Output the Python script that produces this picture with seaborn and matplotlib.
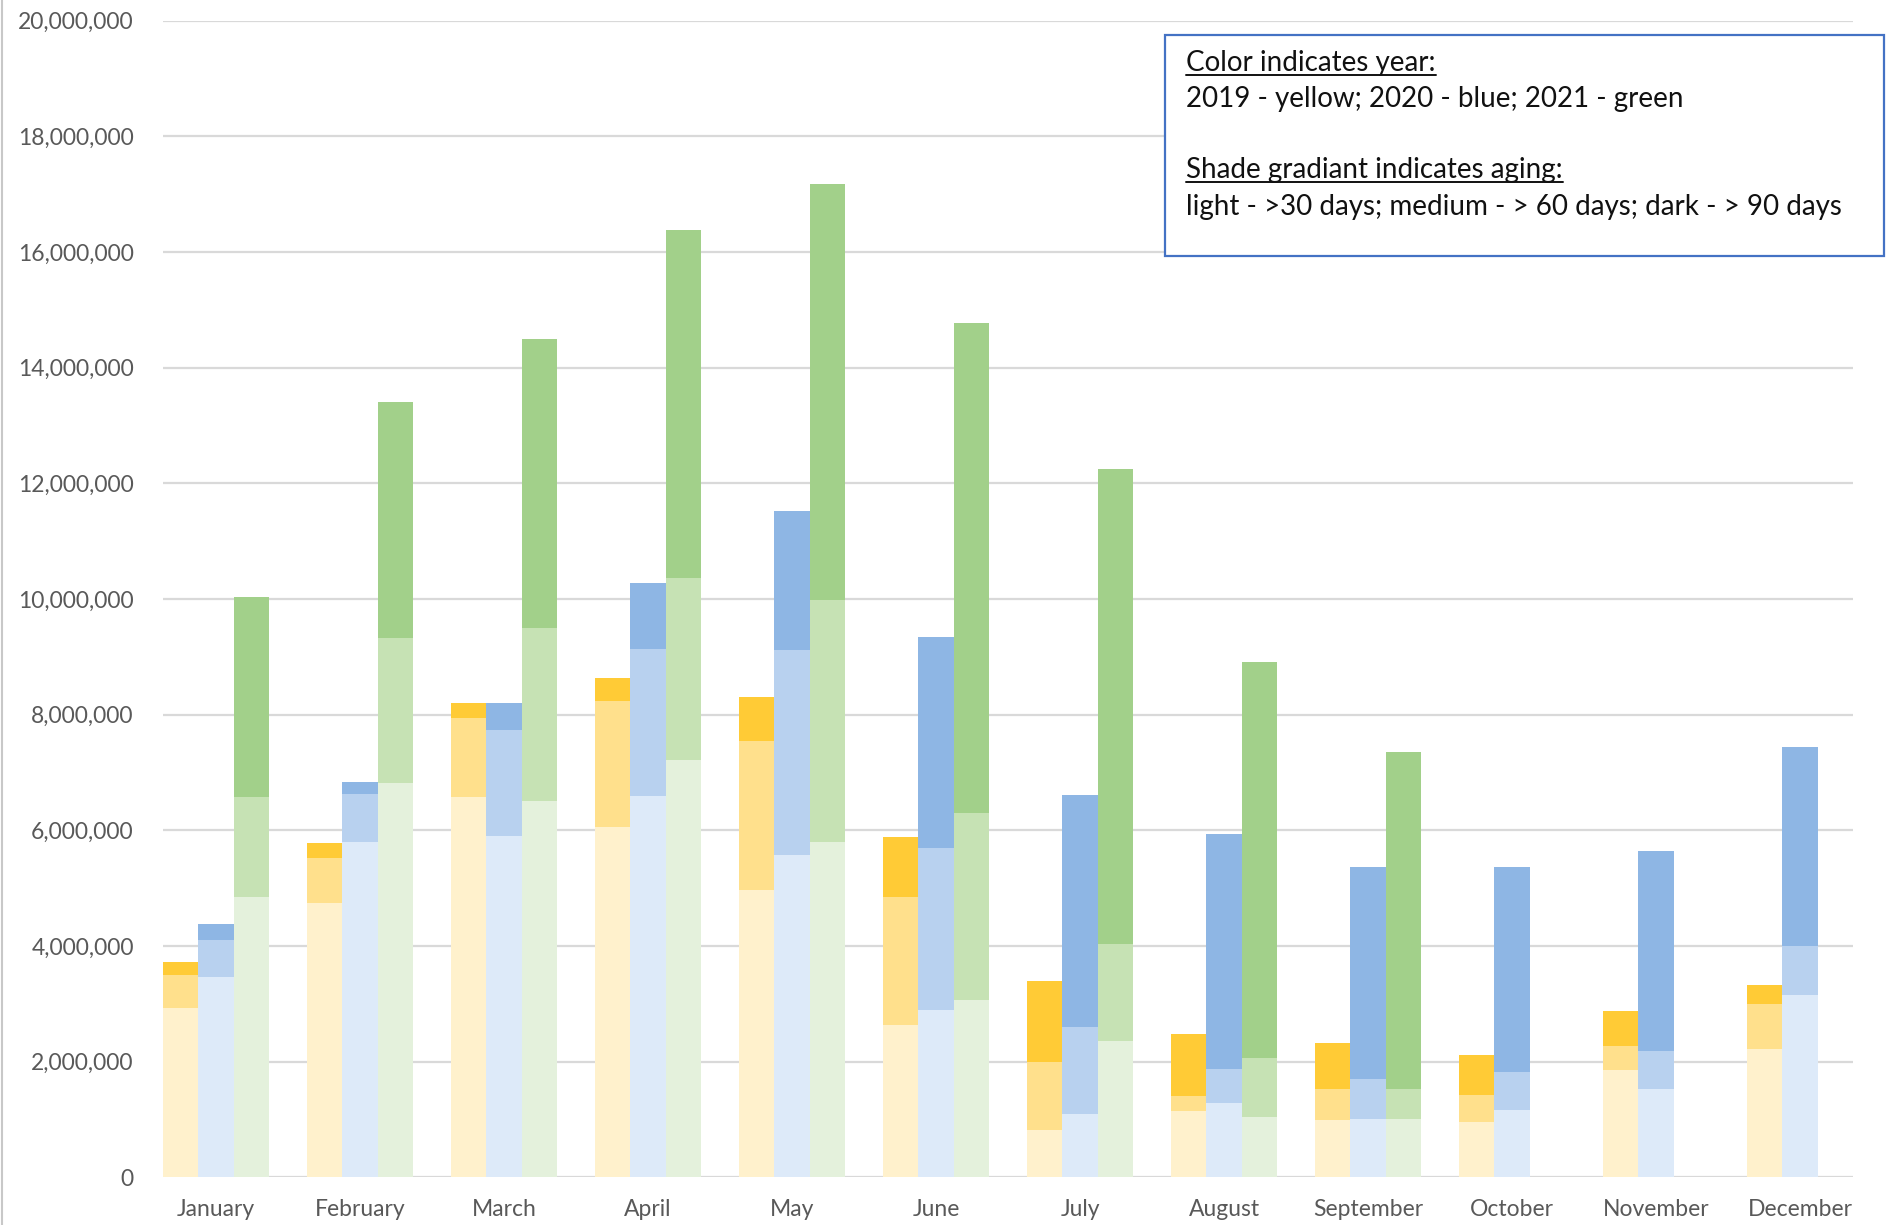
import matplotlib
matplotlib.use("Agg")
import matplotlib.pyplot as plt
import numpy as np
import pandas as pd
import seaborn as sns
from matplotlib.ticker import FuncFormatter, MultipleLocator
from matplotlib.patches import Rectangle
from matplotlib.lines import Line2D

# ---------------------------------------------------------------- data
months = ["January", "February", "March", "April", "May", "June", "July",
          "August", "September", "October", "November", "December"]
years = ["2019", "2020", "2021"]

# Open amounts per aging bucket: light (>30 days), medium (>60), dark (>90)
light_2019 = [2930000, 4750000, 6570000, 6060000, 4960000, 2630000,
              810000, 1150000, 990000, 960000, 1850000, 2210000]
medium_2019 = [570000, 770000, 1380000, 2180000, 2590000, 2210000,
               1190000, 250000, 530000, 470000, 420000, 780000]
dark_2019 = [220000, 260000, 260000, 390000, 750000, 1050000,
             1400000, 1080000, 810000, 690000, 600000, 340000]

light_2020 = [3460000, 5790000, 5910000, 6600000, 5580000, 2900000,
              1100000, 1280000, 1010000, 1160000, 1520000, 3160000]
medium_2020 = [640000, 840000, 1820000, 2530000, 3530000, 2800000,
               1500000, 600000, 690000, 660000, 660000, 840000]
dark_2020 = [280000, 210000, 480000, 1140000, 2410000, 3650000,
             4010000, 4060000, 3660000, 3540000, 3460000, 3440000]

# 2021 only runs through September
light_2021 = [4840000, 6810000, 6510000, 7220000, 5790000, 3070000,
              2360000, 1040000, 1010000]
medium_2021 = [1730000, 2520000, 2990000, 3150000, 4200000, 3230000,
               1670000, 1020000, 510000]
dark_2021 = [3460000, 4070000, 5000000, 6010000, 7190000, 8480000,
             8220000, 6850000, 5840000]

# shades per year: dark, medium, light
shades = {
    "2019": ["#FFCB36", "#FFE08C", "#FFF1CC"],
    "2020": ["#8EB6E4", "#B8D1EF", "#DDEAF9"],
    "2021": ["#A2D08A", "#C6E2B4", "#E4F1DC"],
}

# ---------------------------------------------------------------- table
rows = []
series = {
    "2019": (light_2019, medium_2019, dark_2019),
    "2020": (light_2020, medium_2020, dark_2020),
    "2021": (light_2021, medium_2021, dark_2021),
}
for yr, (lt, md, dk) in series.items():
    for i, (a, b, c) in enumerate(zip(lt, md, dk)):
        rows.append({"month": months[i], "year": yr,
                     "light": a, "medium": b, "dark": c})
df = pd.DataFrame(rows)
df["upto_light"] = df["light"]
df["upto_medium"] = df["light"] + df["medium"]
df["upto_dark"] = df["light"] + df["medium"] + df["dark"]

# ---------------------------------------------------------------- figure
sns.set_theme(style="white")
plt.rcParams["font.family"] = ["Lato", "DejaVu Sans"]

fig = plt.figure(figsize=(18.95, 12.25), dpi=100)
ax = fig.add_axes([0.086, 0.039, 0.892, 0.944])

group_w = 0.738
layers = [("upto_dark", 0), ("upto_medium", 1), ("upto_light", 2)]
for col, k in layers:
    sns.barplot(data=df, x="month", y=col, hue="year",
                order=months, hue_order=years,
                palette={y: shades[y][k] for y in years},
                width=group_w, saturation=1, linewidth=0,
                errorbar=None, legend=False, ax=ax, zorder=2)

ax.set_xlim(-group_w / 2, len(months) - 1 + group_w / 2)
ax.set_ylim(0, 20000000)
ax.yaxis.set_major_locator(MultipleLocator(2000000))
ax.yaxis.set_major_formatter(FuncFormatter(lambda v, p: f"{v:,.0f}"))
ax.set_xlabel("")
ax.set_ylabel("")

ax.set_axisbelow(True)
ax.grid(axis="y", color="#D9D9D9", linewidth=1.6)
ax.grid(axis="x", visible=False)
for s in ax.spines.values():
    s.set_visible(False)

ax.tick_params(axis="y", length=0, pad=21, labelsize=16.5, labelcolor="#595959")
ax.tick_params(axis="x", length=0, pad=16, labelsize=16.5, labelcolor="#595959")

# ---------------------------------------------------------------- note box
box = Rectangle((0.615, 0.791), 0.379, 0.1805, transform=fig.transFigure,
                facecolor="white", edgecolor="#4472C4", linewidth=1.6,
                zorder=5)
fig.patches.append(box)

note_fs = 20
x0 = 0.626
head1 = fig.text(x0, 0.9486, "Color indicates year:", fontsize=note_fs,
                 color="#111111", va="center", ha="left", zorder=6)
fig.text(x0, 0.919, "2019 - yellow; 2020 - blue; 2021 - green",
         fontsize=note_fs, color="#111111", va="center", ha="left", zorder=6)
head2 = fig.text(x0, 0.861, "Shade gradiant indicates aging:", fontsize=note_fs,
                 color="#111111", va="center", ha="left", zorder=6)
fig.text(x0, 0.831, "light - >30 days; medium - > 60 days; dark - > 90 days",
         fontsize=note_fs, color="#111111", va="center", ha="left", zorder=6)

# underline the two headings
fig.canvas.draw()
renderer = fig.canvas.get_renderer()
W, H = fig.get_size_inches() * fig.dpi
for t in (head1, head2):
    bb = t.get_window_extent(renderer)
    yline = (bb.y0 + 1) / H
    fig.add_artist(Line2D([bb.x0 / W, bb.x1 / W], [yline, yline],
                          transform=fig.transFigure, color="#111111",
                          linewidth=1.4, zorder=6))

# thin frame line along the left edge
fig.add_artist(Line2D([0.0012, 0.0012], [0, 1], transform=fig.transFigure,
                      color="#C8C8C8", linewidth=1.5))

fig.savefig("out.png", dpi=100, facecolor="white")
